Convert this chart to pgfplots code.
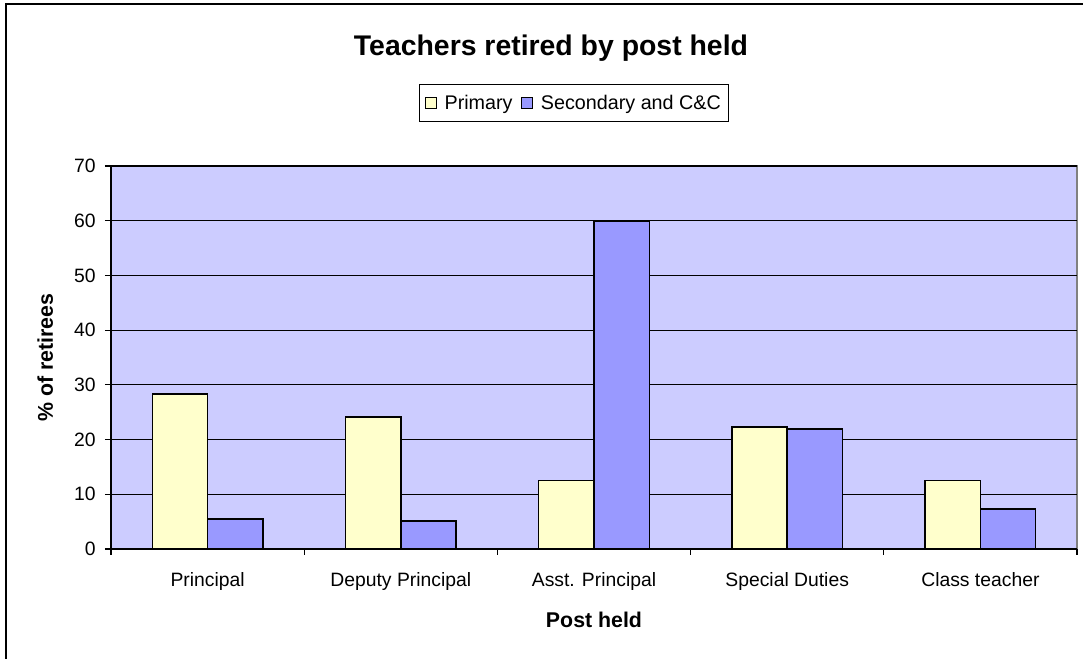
\documentclass[border=0pt]{standalone}
\usepackage{pgfplots}
\pgfplotsset{compat=1.18}
\usepackage{fontspec}
\setmainfont{Liberation Sans}
\definecolor{primfill}{HTML}{FFFFCC}
\definecolor{secfill}{HTML}{9999FF}
\definecolor{plotbg}{HTML}{CCCCFF}
\begin{document}
\begin{tikzpicture}
\useasboundingbox (0,0) rectangle (812.25pt,494.25pt);
\draw[line width=1.2pt] (4.5pt,-10pt) rectangle (830pt,491.25pt);
\begin{axis}[
  at={(83.25pt,82.5pt)}, anchor=south west,
  scale only axis, width=724.5pt, height=287.25pt,
  xmin=0, xmax=5, ymin=0, ymax=70,
  ytick={0,10,...,70},
  xtick={0,1,2,3,4,5},
  xticklabels={,,,,,},
  extra x ticks={0.5,1.5,2.5,3.5,4.5},
  extra x tick labels={Principal,Deputy Principal,Asst. Principal,Special Duties,Class teacher},
  extra x tick style={major tick length=0pt, xticklabel style={yshift=-14pt}},
  /pgf/number format/assume math mode=true,
  axis lines*=left,
  axis line style={black, line width=1pt},
  axis background/.style={fill=plotbg, draw=black!50, line width=1pt},
  tick align=outside,
  major tick length=4.5pt,
  tick style={black, line width=0.8pt},
  ymajorgrids,
  major grid style={black, line width=0.8pt},
  ticklabel style={font=\fontsize{14.5pt}{17pt}\selectfont},
  yticklabel style={xshift=-3.5pt},
  label style={font=\fontsize{16pt}{19pt}\selectfont\bfseries},
  xlabel={Post held},
  ylabel={\% of retirees},
  xlabel style={at={(axis description cs:0.5,-0.185)}, anchor=center},
  ylabel style={at={(axis description cs:-0.068,0.5)}, anchor=center},
  title={Teachers retired by post held},
  title style={at={(axis description cs:0.4555,1.288)}, anchor=center, font=\fontsize{21.3pt}{25pt}\selectfont\bfseries},
  legend style={at={(axis description cs:0.4795,1.1645)}, anchor=center, legend columns=2,
    draw=black, line width=0.9pt, fill=white, font=\fontsize{14.8pt}{17pt}\selectfont,
    inner xsep=4pt, inner ysep=6pt,
    /tikz/every even column/.append style={column sep=4.5pt},
    /tikz/every odd column/.append style={column sep=4pt}},
  legend image code/.code={\draw[#1,draw=black,line width=0.8pt] (0pt,-4pt) rectangle (8pt,4pt);},
]
\addplot[ybar, bar width=0.286, bar shift=-0.143, fill=primfill, draw=black, line width=1.1pt]
  coordinates {(0.5,28.3)(1.5,24.1)(2.5,12.5)(3.5,22.3)(4.5,12.5)};
\addlegendentry{Primary}
\addplot[ybar, bar width=0.286, bar shift=0.143, fill=secfill, draw=black, line width=1.1pt]
  coordinates {(0.5,5.5)(1.5,5.1)(2.5,59.9)(3.5,21.9)(4.5,7.3)};
\addlegendentry{Secondary and C\&C}
\end{axis}
\end{tikzpicture}
\end{document}
